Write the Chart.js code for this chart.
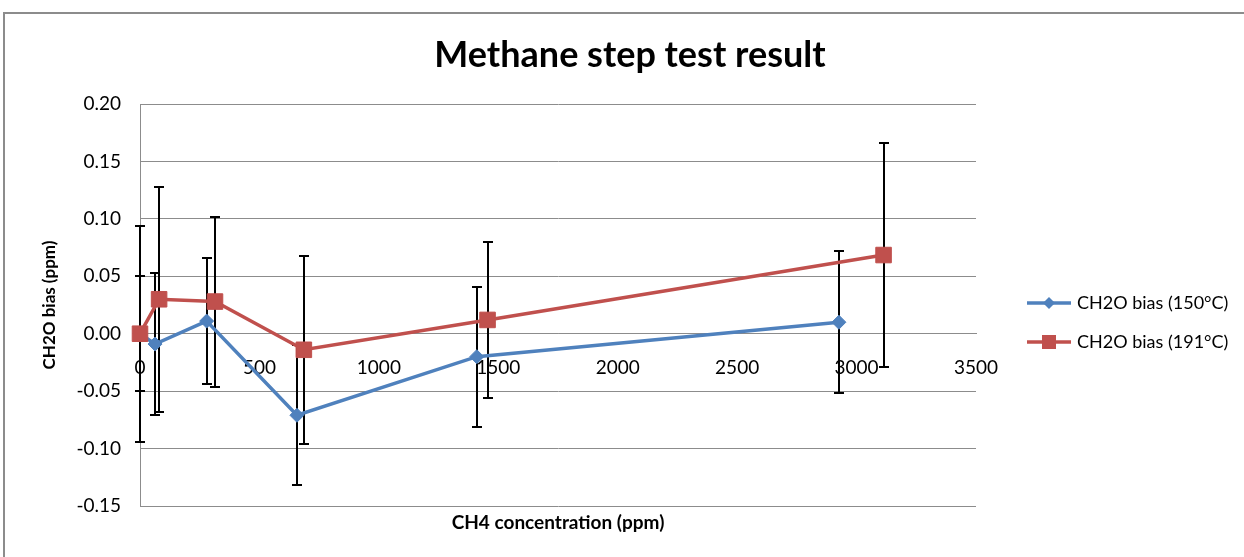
<!DOCTYPE html>
<html>
<head>
<meta charset="utf-8">
<script src="https://cdn.jsdelivr.net/npm/chart.js@4"></script>
<style>
html,body{margin:0;padding:0;background:#fff;overflow:hidden}
#wrap{position:relative;width:1244px;height:557px;overflow:hidden}
#frame{position:absolute;left:3px;top:12px;width:1270px;height:580px;border:2px solid #8c8c8c;box-sizing:border-box}
canvas{position:absolute;left:0;top:0}
</style>
</head>
<body>
<div id="wrap"><div id="frame"></div><canvas id="c" width="1244" height="557"></canvas></div>
<script>
// ---- data ----
const chartTitle = 'Methane step test result';
const xAxisTitle = 'CH4 concentration (ppm)';
const yAxisTitle = 'CH2O bias (ppm)';
const seriesNames = ['CH2O bias (150°C)', 'CH2O bias (191°C)'];
const xTickValues = [0, 500, 1000, 1500, 2000, 2500, 3000, 3500];
const yTickValues = [-0.15, -0.10, -0.05, 0.00, 0.05, 0.10, 0.15, 0.20];

const x150 = [0, 63, 279, 657, 1410, 2926];
const y150 = [0.000, -0.009, 0.011, -0.071, -0.020, 0.010];
const err150 = [0.050, 0.062, 0.055, 0.061, 0.061, 0.062];

const x191 = [0, 80, 314, 686, 1455, 3113];
const y191 = [0.000, 0.030, 0.028, -0.014, 0.012, 0.0685];
const err191 = [0.094, 0.098, 0.074, 0.082, 0.068, 0.0975];

// ---- styling ----
const BLUE = '#4F81BD';
const RED = '#C0504D';
const GRID = '#8c8c8c';
const FONT = 'Lato, "Open Sans", "Liberation Sans", sans-serif';
Chart.defaults.font.family = FONT;
Chart.defaults.color = '#000';

function legendIcon(color, shape) {
  const c = document.createElement('canvas');
  c.width = 44; c.height = 16;
  const g = c.getContext('2d');
  g.strokeStyle = color; g.lineWidth = 3.5;
  g.beginPath(); g.moveTo(0, 8); g.lineTo(44, 8); g.stroke();
  g.fillStyle = color;
  g.beginPath();
  if (shape === 'diamond') {
    g.moveTo(22, 2); g.lineTo(28, 8); g.lineTo(22, 14); g.lineTo(16, 8); g.closePath();
  } else {
    g.rect(15, 1, 14, 14);
  }
  g.fill();
  return c;
}
const legendIcons = [legendIcon(BLUE, 'diamond'), legendIcon(RED, 'square')];

const errorBars = {
  id: 'errorBars',
  beforeDatasetsDraw(chart) {
    const {ctx} = chart;
    const xs = chart.scales.x, ys = chart.scales.y;
    ctx.save();
    ctx.strokeStyle = '#000';
    ctx.lineWidth = 2;
    chart.data.datasets.forEach((ds, di) => {
      if (!chart.isDatasetVisible(di)) return;
      ds.data.forEach((p, i) => {
        const e = ds.errors[i];
        const px = Math.round(xs.getPixelForValue(p.x));
        const top = Math.round(ys.getPixelForValue(p.y + e));
        const bot = Math.round(ys.getPixelForValue(p.y - e));
        ctx.beginPath();
        ctx.moveTo(px, top); ctx.lineTo(px, bot);
        ctx.moveTo(px - 5, top); ctx.lineTo(px + 5, top);
        ctx.moveTo(px - 5, bot); ctx.lineTo(px + 5, bot);
        ctx.stroke();
      });
    });
    ctx.restore();
  }
};

const legendPlace = {
  id: 'legendPlace',
  afterInit(chart) {
    const lg = chart.legend;
    const fit = lg.fit;
    lg.fit = function () { fit.call(this); this.width = 268; };
  },
  afterLayout(chart) {
    const lg = chart.legend;
    const dx = 1009 - lg.left;
    lg.left += dx; lg.right += dx;
    const dy = 44;
    lg.top += dy; lg.bottom += dy;
  }
};

const fmtY = v => (Math.abs(v) < 1e-9 ? 0 : v).toFixed(2);

new Chart(document.getElementById('c'), {
  type: 'scatter',
  data: {
    datasets: [
      {
        label: seriesNames[0],
        data: x150.map((x, i) => ({x, y: y150[i]})),
        errors: err150,
        showLine: true,
        clip: false,
        borderColor: BLUE, backgroundColor: BLUE,
        borderWidth: 3.5,
        pointStyle: 'rectRot', pointRadius: 7, pointBorderWidth: 1,
        pointBackgroundColor: BLUE, pointBorderColor: BLUE,
        order: 2
      },
      {
        label: seriesNames[1],
        data: x191.map((x, i) => ({x, y: y191[i]})),
        errors: err191,
        showLine: true,
        clip: false,
        borderColor: RED, backgroundColor: RED,
        borderWidth: 3.5,
        pointStyle: 'rect', pointRadius: 11, pointBorderWidth: 1,
        pointBackgroundColor: RED, pointBorderColor: RED,
        order: 1
      }
    ]
  },
  options: {
    responsive: false,
    animation: false,
    devicePixelRatio: 1,
    layout: {padding: {left: 16, right: 0, top: 0, bottom: 0}},
    plugins: {
      title: {
        display: true, text: chartTitle, color: '#000',
        font: {size: 36, weight: 'bold'},
        padding: {top: 33.4, bottom: 27.4}
      },
      legend: {
        position: 'right',
        labels: {
          usePointStyle: true,
          pointStyleWidth: 38,
          padding: 21,
          font: {size: 18},
          color: '#000',
          generateLabels(chart) {
            return chart.data.datasets.map((ds, i) => ({
              text: ds.label,
              pointStyle: legendIcons[i],
              fillStyle: ds.borderColor,
              strokeStyle: ds.borderColor,
              lineWidth: 0,
              hidden: !chart.isDatasetVisible(i),
              datasetIndex: i
            }));
          }
        }
      },
      tooltip: {enabled: false}
    },
    scales: {
      x: {
        type: 'linear',
        position: {y: 0},
        min: xTickValues[0], max: xTickValues[xTickValues.length - 1],
        afterBuildTicks(s) { s.ticks = xTickValues.map(v => ({value: v})); },
        ticks: {
          padding: 22.6, font: {size: 19}, color: '#000',
          maxRotation: 0, autoSkip: false,
          callback: v => String(Math.round(v))
        },
        grid: {display: false, drawTicks: false},
        border: {display: true, color: GRID, width: 1}
      },
      xt: {
        type: 'linear',
        position: 'bottom',
        min: 0, max: 3500,
        ticks: {display: false},
        grid: {display: false, drawTicks: false},
        border: {display: false},
        title: {
          display: true, text: xAxisTitle, color: '#000',
          font: {size: 19, weight: 'bold'},
          padding: {top: 0, bottom: 22.6}
        },
        afterFit(s) { s.height = 51; }
      },
      y: {
        type: 'linear',
        min: yTickValues[0], max: yTickValues[yTickValues.length - 1],
        afterBuildTicks(s) { s.ticks = yTickValues.map(v => ({value: v})); },
        ticks: {padding: 19, font: {size: 19}, color: '#000', callback: fmtY},
        grid: {color: GRID, lineWidth: 1, drawTicks: false},
        border: {display: true, color: GRID, width: 1},
        title: {
          display: true, text: yAxisTitle, color: '#000',
          font: {size: 17, weight: 'bold'},
          padding: {top: 23.8, bottom: 0}
        },
        afterFit(s) { s.width = 124; }
      }
    }
  },
  plugins: [errorBars, legendPlace]
});
</script>
</body>
</html>
